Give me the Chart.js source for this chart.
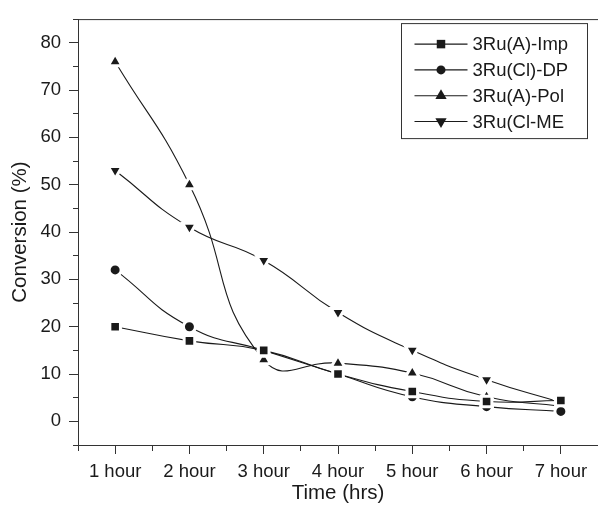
<!DOCTYPE html>
<html>
<head>
<meta charset="utf-8">
<script src="https://cdn.jsdelivr.net/npm/chart.js@4.4.1/dist/chart.umd.min.js"></script>
<style>
  html, body { margin: 0; padding: 0; background: #fff; }
  #wrap { width: 598px; height: 506px; }
</style>
</head>
<body>
<div id="wrap"><canvas id="chart"></canvas></div>
<script>
// time points (hours) and their tick labels
const hours = [1, 2, 3, 4, 5, 6, 7];
const hourLabels = ['1 hour', '2 hour', '3 hour', '4 hour', '5 hour', '6 hour', '7 hour'];

// conversion (%) per catalyst
const ruAImp = [20, 17, 15, 10, 6.3, 4.2, 4.4];
const ruClDP = [32, 20, 15, 10, 5.2, 3.1, 2.1];
const ruAPol = [76, 50, 13, 12.3, 10.2, 5.2, 3.2];
const ruClME = [53, 41, 34, 23, 15, 8.8, 4];

const seriesNames = ['3Ru(A)-Imp', '3Ru(Cl)-DP', '3Ru(A)-Pol', '3Ru(Cl-ME'];

const ink = '#1a1a1a';
const font = '"Liberation Sans", Arial, Helvetica, sans-serif';

function makeSet(label, values, style, radius, rotation) {
    return {
        label: label,
        data: values.map((v, i) => ({x: hours[i], y: v})),
        borderColor: ink,
        borderWidth: 1.1,
        backgroundColor: ink,
        pointStyle: style,
        pointRotation: rotation,
        pointRadius: radius,
        pointBackgroundColor: ink,
        pointBorderColor: '#fff',
        pointBorderWidth: 3,
        tension: 0.5,
        fill: false
    };
}

// line-through-marker legend box plus the top frame line
const frameAndLegend = {
    id: 'frameAndLegend',
    afterDraw(chart) {
        const ctx = chart.ctx;
        const area = chart.chartArea;
        ctx.save();
        ctx.strokeStyle = '#333';
        ctx.lineWidth = 1;
        ctx.beginPath();
        ctx.moveTo(area.left, area.top + 0.5);
        ctx.lineTo(chart.width, area.top + 0.5);
        ctx.stroke();

        const boxW = 186, boxH = 115, rowH = 25.8;
        const bx = chart.width - boxW - 11 + 0.5;
        const by = area.top + 4 + 0.5;
        ctx.strokeStyle = '#333';
        ctx.strokeRect(bx, by, boxW, boxH);

        ctx.font = '18.5px ' + font;
        ctx.textBaseline = 'middle';
        ctx.fillStyle = ink;
        chart.data.datasets.forEach((ds, i) => {
            const y = by + 20.5 + i * rowH;
            const x0 = bx + 13, x1 = bx + 66;
            ctx.strokeStyle = ink;
            ctx.lineWidth = 1.1;
            ctx.beginPath();
            ctx.moveTo(x0, y);
            ctx.lineTo(x1, y);
            ctx.stroke();
            Chart.helpers.drawPoint(ctx, {
                pointStyle: ds.pointStyle,
                rotation: ds.pointRotation,
                radius: ds.pointRadius - 1.5,
                borderWidth: 0
            }, (x0 + x1) / 2, y);
            ctx.fillText(ds.label, x1 + 5, y + 1);
        });
        ctx.restore();
    }
};

new Chart(document.getElementById('chart'), {
    type: 'line',
    data: {
        datasets: [
            makeSet(seriesNames[0], ruAImp, 'rect', 7.5, 0),
            makeSet(seriesNames[1], ruClDP, 'circle', 6, 0),
            makeSet(seriesNames[2], ruAPol, 'triangle', 8, 0),
            makeSet(seriesNames[3], ruClME, 'triangle', 8, 180)
        ]
    },
    options: {
        responsive: true,
        maintainAspectRatio: false,
        animation: false,
        layout: {autoPadding: false, padding: {top: 15, right: -3, left: 0, bottom: 0}},
        plugins: {legend: {display: false}, tooltip: {enabled: false}},
        scales: {
            x: {
                type: 'linear',
                min: 0.5,
                max: 7.5,
                afterFit(scale) {
                    scale.height = 61;
                    scale.paddingRight = 0;
                    scale.paddingLeft = 0;
                },
                border: {display: true, color: '#333', width: 1},
                grid: {
                    drawOnChartArea: false,
                    tickLength: 9,
                    tickColor: '#333',
                    tickBorderDash: c => (Number.isInteger(c.tick.value) ? [] : [5, 100])
                },
                ticks: {
                    stepSize: 0.5,
                    autoSkip: false,
                    maxRotation: 0,
                    padding: 7,
                    color: ink,
                    font: {family: font, size: 18.5},
                    callback: v => (Number.isInteger(v) ? hourLabels[hours.indexOf(v)] : '')
                },
                title: {
                    display: true,
                    text: 'Time (hrs)',
                    color: ink,
                    font: {family: font, size: 20.5},
                    padding: {top: 0, bottom: 0}
                }
            },
            y: {
                min: -5,
                max: 85,
                afterFit(scale) { scale.width = 78; },
                border: {display: true, color: '#333', width: 1},
                grid: {
                    drawOnChartArea: false,
                    tickLength: 9,
                    tickColor: '#333',
                    tickBorderDash: c => (c.tick.value % 10 === 0 ? [] : [0, 4, 5, 0])
                },
                ticks: {
                    stepSize: 5,
                    autoSkip: false,
                    padding: 8,
                    color: ink,
                    font: {family: font, size: 18.5},
                    callback: v => (v % 10 === 0 && v <= 80 ? v : '')
                },
                title: {
                    display: true,
                    text: 'Conversion (%)',
                    color: ink,
                    font: {family: font, size: 20.5},
                    padding: {top: 8, bottom: 0}
                }
            }
        }
    },
    plugins: [frameAndLegend]
});
</script>
</body>
</html>
